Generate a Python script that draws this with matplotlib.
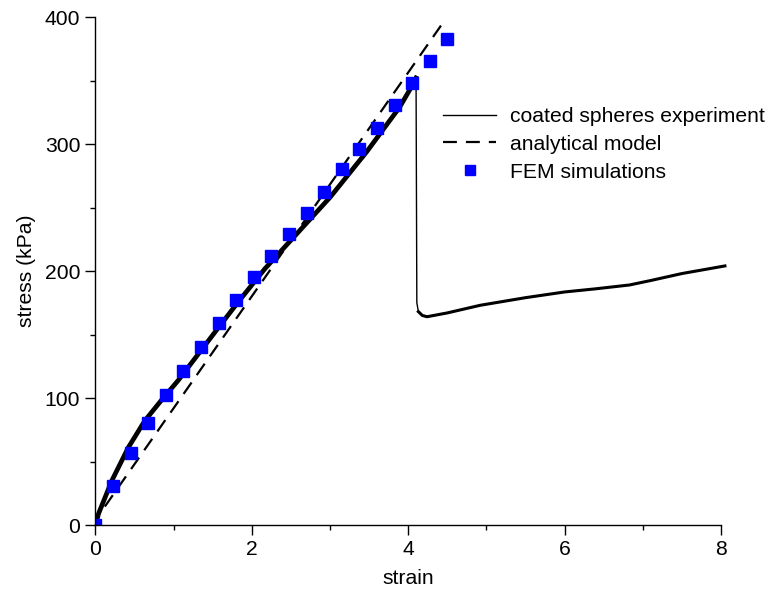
import numpy as np
import matplotlib
matplotlib.use("Agg")
import matplotlib.pyplot as plt
from matplotlib.ticker import MultipleLocator

plt.rcParams['font.family'] = ['Liberation Sans', 'DejaVu Sans']
plt.rcParams['lines.scale_dashes'] = False

# 實驗曲線 (coated spheres experiment)
exp_strain = [0, 0.04, 0.21, 0.42, 0.63, 0.84, 1.06, 1.53, 1.83, 2.17, 2.57, 3.00,
              3.47, 3.89, 4.06, 4.10, 4.11, 4.13, 4.18, 4.24, 4.50, 4.92, 5.50,
              6.00, 6.40, 6.83, 7.10, 7.50, 8.05]
exp_stress = [0, 9, 35, 61, 82, 98, 114, 152, 176, 202, 229, 258,
              294, 329, 347, 352, 175, 168, 165, 164, 167, 173, 179,
              183.5, 186, 189, 192.5, 198, 204]
peak_idx = 15  # 破壞前最後一點

# 解析模型
model_strain = [0.12, 4.45]
model_stress = [14.5, 396]

# FEM 模擬
fem_strain = [0, 0.225, 0.45, 0.675, 0.9, 1.125, 1.35, 1.575, 1.8, 2.025, 2.25,
              2.475, 2.7, 2.925, 3.15, 3.375, 3.6, 3.825, 4.05, 4.275, 4.5]
fem_stress = [0, 31, 57, 80, 102, 121, 140, 159, 177, 195, 212,
              229, 246, 262, 280, 296, 313, 331, 348, 365, 383]

FS = 15.2

fig = plt.figure(figsize=(7.68, 5.97), dpi=100)
ax = fig.add_axes([0.1243, 0.1206, 0.8145, 0.8509])

ax.plot(exp_strain, exp_stress, color='black', lw=1.0, clip_on=False,
        label='coated spheres experiment')
# 量測雜訊讓曲線看起來較粗
ax.plot(exp_strain[:peak_idx + 1], exp_stress[:peak_idx + 1], color='black', lw=3.4)
ax.plot(exp_strain[peak_idx + 2:], exp_stress[peak_idx + 2:], color='black', lw=2.2,
        clip_on=False)
ax.plot(model_strain, model_stress, color='black', lw=1.6, dashes=(10, 6.5),
        label='analytical model')
ax.plot(fem_strain, fem_stress, ls='none', marker='s', ms=8.5, color='#0000ff',
        mec='#0000ff', label='FEM simulations')

ax.set_xlim(0, 8)
ax.set_ylim(0, 400)
ax.xaxis.set_major_locator(MultipleLocator(2))
ax.xaxis.set_minor_locator(MultipleLocator(1))
ax.yaxis.set_major_locator(MultipleLocator(100))
ax.yaxis.set_minor_locator(MultipleLocator(50))
ax.tick_params(which='both', direction='out', width=1.0, labelsize=FS, pad=4)
ax.tick_params(which='major', length=7)
ax.tick_params(which='minor', length=3.5)
for side in ['top', 'right']:
    ax.spines[side].set_visible(False)
for side in ['left', 'bottom']:
    ax.spines[side].set_linewidth(1.0)

ax.set_xlabel('strain', fontsize=FS, labelpad=7)
ax.set_ylabel('stress (kPa)', fontsize=FS, labelpad=6)

ax.legend(loc='upper left', bbox_to_anchor=(0.577, 0.8208), bbox_transform=fig.transFigure,
          frameon=False, fontsize=FS, handlelength=2.5, handletextpad=0.65,
          labelspacing=0.42, borderpad=0, borderaxespad=0, markerscale=0.85)

fig.savefig('out.png', dpi=100)
